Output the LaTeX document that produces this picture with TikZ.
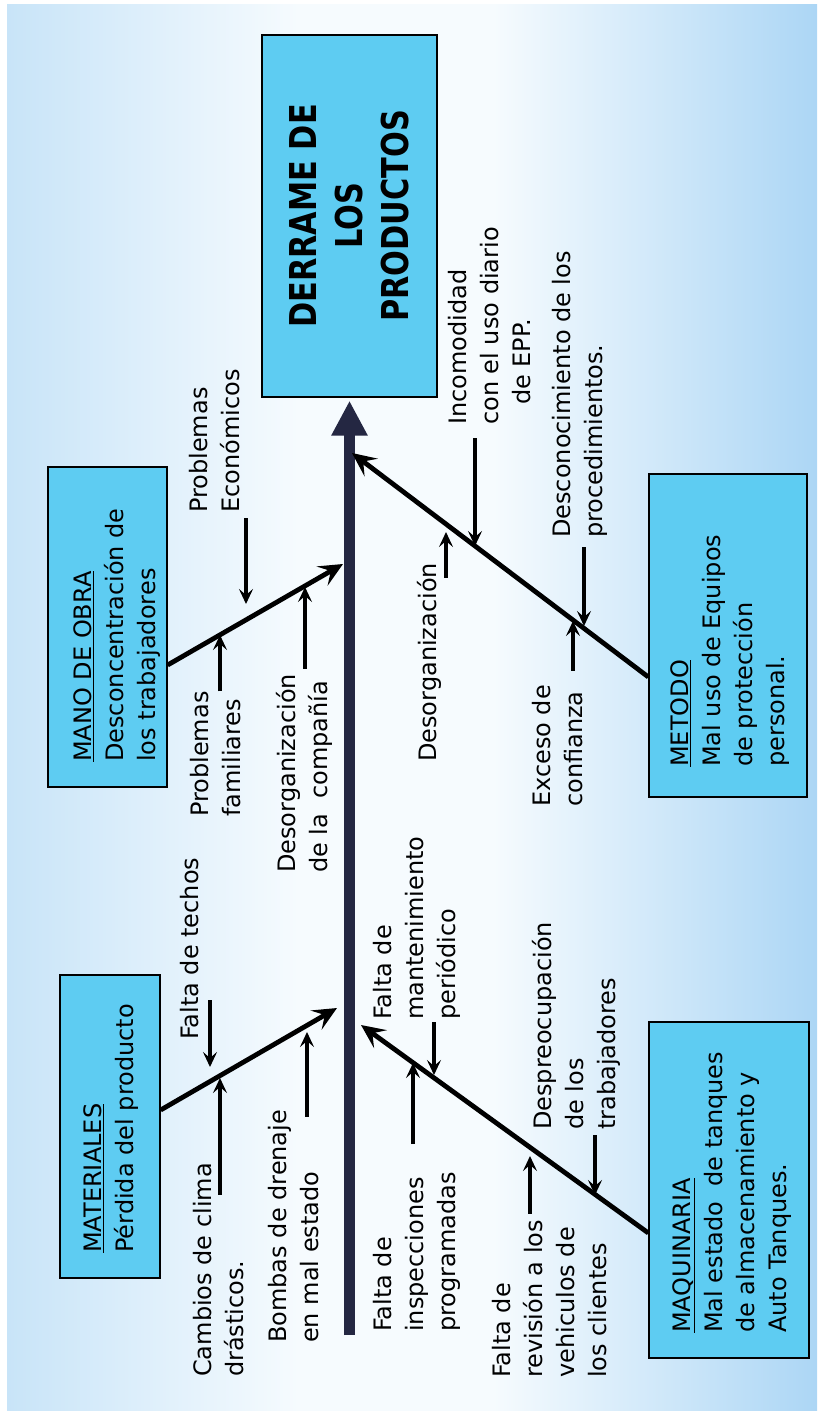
\documentclass[tikz,border=0pt]{standalone}
\usepackage{fontspec}
\setmainfont{DejaVu Sans}
\newfontfamily\titlefont{DejaVu Sans}[FakeStretch=0.82]
\usetikzlibrary{arrows.meta}
\definecolor{boxblue}{RGB}{94,204,242}
\definecolor{spinenavy}{RGB}{36,39,66}
\definecolor{bgleft}{RGB}{200,228,248}
\definecolor{bgmid}{RGB}{246,251,254}
\definecolor{bgright}{RGB}{172,214,245}
\pgfdeclarehorizontalshading{bgshade}{100bp}{color(0bp)=(bgleft); color(25bp)=(bgleft); color(43bp)=(bgmid); color(55bp)=(bgmid); color(75bp)=(bgright); color(100bp)=(bgright)}
\tikzset{
  causebox/.style={draw=black, line width=1.3pt, fill=boxblue, rotate=90, inner sep=0pt},
  causetext/.style={rotate=90, anchor=north west, align=left, inner sep=0pt, font=\fontsize{24}{32}\selectfont},
  branch/.style={line width=4.8pt, -{Stealth[length=24pt,width=22pt,inset=10pt]}},
  cause/.style={line width=3.2pt, -{Stealth[length=15pt,width=14pt,inset=6pt]}},
  spine/.style={line width=11pt, spinenavy, -{Triangle[length=35pt,width=34pt]}},
}
\begin{document}
\begin{tikzpicture}[x=1pt,y=1pt,yscale=-1]
        \useasboundingbox (0,0) rectangle (817,1414);
        \fill[white] (0,0) rectangle (817,1414);
        \shade[shading=bgshade] (7,4) rectangle (817,1410);
        \node[causebox, minimum width=362pt, minimum height=175pt, align=center, font=\titlefont\bfseries\fontsize{37}{46}\selectfont] (effect) at (349.5,216) {DERRAME DE\\LOS\\PRODUCTOS};
        \node[causebox, minimum width=320pt, minimum height=119pt] (mano) at (107.5,627) {};
        \node[causebox, minimum width=323pt, minimum height=158pt] (metodo) at (728,635.5) {};
        \node[causebox, minimum width=303pt, minimum height=100pt] (mat) at (110,1126.5) {};
        \node[causebox, minimum width=336pt, minimum height=160pt] (maq) at (729,1190) {};
        \node[causetext] (manotxt) at (73,762) {\underline{MANO DE OBRA}\\Desconcentración de\\los trabajadores};
        \node[causetext] (metodotxt) at (670,767) {\underline{METODO}\\Mal uso de Equipos\\de protección\\personal.};
        \node[causetext] (mattxt) at (83,1253) {\underline{MATERIALES}\\Pérdida del producto};
        \node[causetext] (maqtxt) at (672,1333) {\underline{MAQUINARIA}\\Mal estado\ \ de tanques\\de almacenamiento y\\Auto Tanques.};
        \node[causetext] (econ) at (189,513) {Problemas\\Económicos};
        \node[causetext] (fam) at (190,817) {Problemas\\familiares};
        \node[causetext] (desorgcia) at (276,873) {Desorganización\\de la\ \ compañía};
        \node[causetext] (incom) at (448,425) {Incomodidad\\con el uso diario\\\hspace*{20pt}de EPP.};
        \node[causetext] (descon) at (552,538) {Desconocimiento de los\\procedimientos.};
        \node[causetext] (desorg) at (417,762) {Desorganización};
        \node[causetext] (exceso) at (532,807) {Exceso de\\confianza};
        \node[causetext] (techos) at (180,1040) {Falta de techos};
        \node[causetext] (cambios) at (193,1377) {Cambios de clima\\drásticos.};
        \node[causetext] (bombas) at (268,1343) {Bombas de drenaje\\en mal estado};
        \node[causetext] (manten) at (373,1020) {Falta de\\mantenimiento\\periódico};
        \node[causetext] (inspec) at (373,1332) {Falta de\\inspecciones\\programadas};
        \node[causetext] (despreoc) at (532,1130) {Despreocupación\\de los\\trabajadores};
        \node[causetext] (revision) at (492,1378) {Falta de\\revisión a los\\vehiculos de\\los clientes};
        \coordinate (manotip) at (343,564);
        \coordinate (metodotip) at (352,453);
        \coordinate (mattip) at (337,1008);
        \coordinate (maqtip) at (361,1025);
        \coordinate (e1) at (246,604);
        \coordinate (f1) at (220,635);
        \coordinate (d1) at (305,587);
        \coordinate (i1) at (475,546);
        \coordinate (c1) at (584,626);
        \coordinate (o1) at (446,532);
        \coordinate (x1) at (573,621);
        \coordinate (t1) at (210,1067);
        \coordinate (b1) at (220,1078);
        \coordinate (p1) at (307,1032);
        \coordinate (n1) at (434,1075);
        \coordinate (s1) at (413,1063);
        \coordinate (r1) at (595,1195);
        \coordinate (v1) at (530,1156);
        \draw[spine, shorten >=3pt] (effect.west |- 0,1335) -- (effect.west);
        \draw[branch] (mano.south |- 0,665) -- (manotip);
        \draw[branch] (metodo.north |- 0,677) -- (metodotip);
        \draw[branch] (mat.south |- 0,1110) -- (mattip);
        \draw[branch] (maq.north |- 0,1233) -- (maqtip);
        \draw[cause, shorten <=5pt] (econ.west -| e1) -- (e1);
        \draw[cause] (fam.east -| f1) -- (f1);
        \draw[cause, shorten <=5pt] (desorgcia.east -| d1) -- (d1);
        \draw[cause, shorten <=13pt] (incom.west -| i1) -- (i1);
        \draw[cause, shorten <=9pt] (descon.west -| c1) -- (c1);
        \draw[cause] (desorg.east -| o1) ++(0,15) -- (o1);
        \draw[cause, shorten <=14pt] (exceso.east -| x1) -- (x1);
        \draw[cause] (techos.west -| t1) ++(0,-40) -- (t1);
        \draw[cause] (cambios.east -| b1) ++(0,32) -- (b1);
        \draw[cause] (bombas.east -| p1) ++(0,7) -- (p1);
        \draw[cause, shorten <=2pt] (manten.west -| n1) -- (n1);
        \draw[cause, shorten <=28pt] (inspec.east -| s1) -- (s1);
        \draw[cause, shorten <=5pt] (despreoc.west -| r1) -- (r1);
        \draw[cause, shorten <=6pt] (revision.east -| v1) -- (v1);
    \end{tikzpicture}
\end{document}
